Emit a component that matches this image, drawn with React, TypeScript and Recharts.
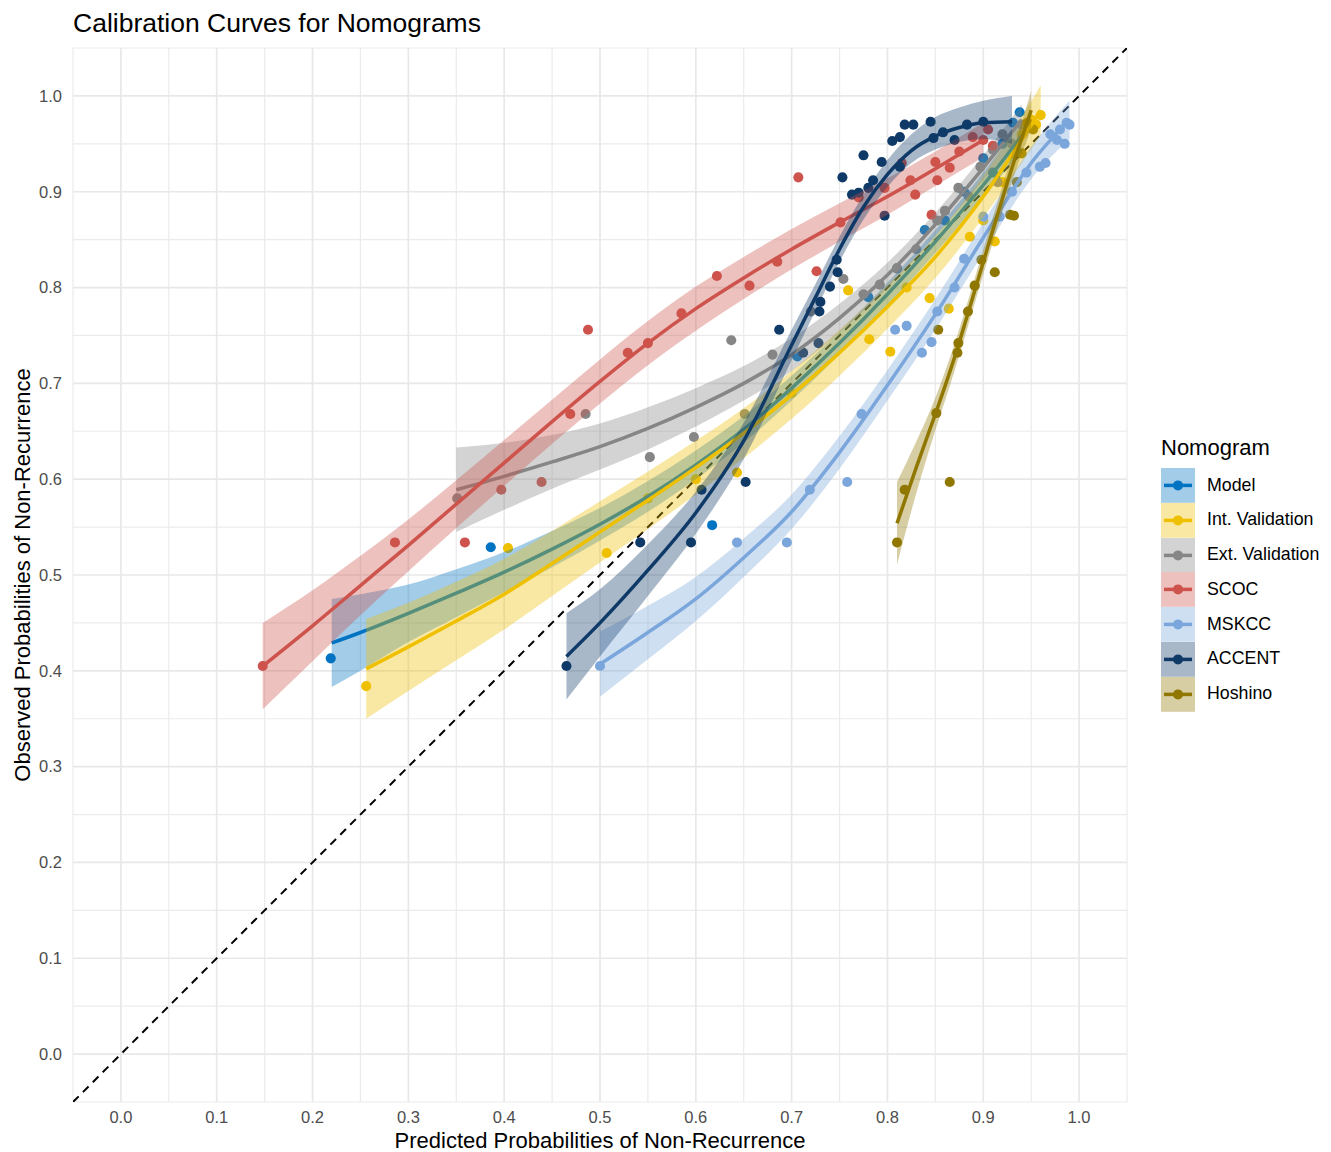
import React from 'react';
import { ComposedChart, XAxis, YAxis, ZAxis, CartesianGrid, Area, Line, Scatter } from 'recharts';

// ---------- categories / ticks ----------
const seriesNames = ['Model', 'Int. Validation', 'Ext. Validation', 'SCOC', 'MSKCC', 'ACCENT', 'Hoshino'];
const seriesColors = ['#0073C2', '#EFC000', '#868686', '#CD534C', '#7AA6DC', '#0F3A68', '#8F7700'];
const majorTicks = [0, 0.1, 0.2, 0.3, 0.4, 0.5, 0.6, 0.7, 0.8, 0.9, 1.0];
const minorTicks = [-0.05, 0.05, 0.15, 0.25, 0.35, 0.45, 0.55, 0.65, 0.75, 0.85, 0.95, 1.05];
const diagonalX = [-0.05, 1.05];
const diagonalY = [-0.05, 1.05];

// ---------- Model ----------
const modelPtX = [0.219, 0.386, 0.617, 0.706, 0.78, 0.81, 0.839, 0.86, 0.88, 0.9, 0.91, 0.92, 0.931, 0.938];
const modelPtY = [0.413, 0.529, 0.552, 0.728, 0.79, 0.82, 0.86, 0.87, 0.9, 0.935, 0.92, 0.95, 0.972, 0.983];
const modelCurveX = [0.22, 0.25, 0.3, 0.35, 0.4, 0.45, 0.5, 0.55, 0.6, 0.65, 0.7, 0.75, 0.8, 0.85, 0.9, 0.94];
const modelCurveY = [0.429, 0.44, 0.46, 0.481, 0.503, 0.527, 0.553, 0.582, 0.615, 0.652, 0.695, 0.742, 0.793, 0.848, 0.907, 0.958];
const modelCurveLo = [0.383, 0.4, 0.43, 0.456, 0.482, 0.508, 0.536, 0.566, 0.6, 0.638, 0.682, 0.73, 0.781, 0.836, 0.894, 0.942];
const modelCurveHi = [0.475, 0.48, 0.49, 0.506, 0.524, 0.546, 0.57, 0.598, 0.63, 0.666, 0.708, 0.754, 0.805, 0.86, 0.92, 0.974];

// ---------- Int. Validation ----------
const intPtX = [0.256, 0.404, 0.507, 0.55, 0.6, 0.643, 0.7, 0.759, 0.781, 0.803, 0.82, 0.844, 0.864, 0.886, 0.9, 0.912, 0.92, 0.93, 0.94, 0.95, 0.955, 0.96];
const intPtY = [0.384, 0.528, 0.523, 0.58, 0.6, 0.607, 0.69, 0.797, 0.746, 0.733, 0.8, 0.789, 0.778, 0.853, 0.87, 0.848, 0.91, 0.94, 0.96, 0.975, 0.97, 0.98];
const intCurveX = [0.256, 0.3, 0.35, 0.4, 0.45, 0.5, 0.55, 0.6, 0.65, 0.7, 0.75, 0.8, 0.85, 0.9, 0.96];
const intCurveY = [0.402, 0.425, 0.452, 0.48, 0.512, 0.545, 0.578, 0.612, 0.648, 0.688, 0.732, 0.78, 0.832, 0.895, 0.985];
const intCurveLo = [0.35, 0.379, 0.411, 0.443, 0.478, 0.513, 0.548, 0.584, 0.622, 0.663, 0.708, 0.757, 0.81, 0.873, 0.959];
const intCurveHi = [0.454, 0.471, 0.493, 0.517, 0.546, 0.577, 0.608, 0.64, 0.674, 0.713, 0.756, 0.803, 0.854, 0.917, 1.011];

// ---------- Ext. Validation ----------
const extPtX = [0.351, 0.485, 0.552, 0.598, 0.637, 0.651, 0.68, 0.72, 0.754, 0.775, 0.792, 0.81, 0.83, 0.852, 0.86, 0.874, 0.885, 0.897, 0.91, 0.915, 0.92, 0.93, 0.94];
const extPtY = [0.58, 0.668, 0.623, 0.644, 0.745, 0.668, 0.73, 0.775, 0.809, 0.793, 0.803, 0.82, 0.84, 0.87, 0.88, 0.904, 0.895, 0.926, 0.944, 0.91, 0.96, 0.95, 0.97];
const extCurveX = [0.35, 0.4, 0.45, 0.5, 0.55, 0.6, 0.65, 0.7, 0.75, 0.8, 0.85, 0.9, 0.94];
const extCurveY = [0.589, 0.603, 0.618, 0.634, 0.653, 0.675, 0.7, 0.73, 0.768, 0.813, 0.866, 0.925, 0.975];
const extCurveLo = [0.545, 0.568, 0.59, 0.61, 0.631, 0.655, 0.682, 0.713, 0.753, 0.8, 0.854, 0.912, 0.959];
const extCurveHi = [0.633, 0.638, 0.646, 0.658, 0.675, 0.695, 0.718, 0.747, 0.783, 0.826, 0.878, 0.938, 0.991];

// ---------- SCOC ----------
const scocPtX = [0.148, 0.286, 0.359, 0.397, 0.439, 0.469, 0.4875, 0.529, 0.55, 0.585, 0.622, 0.656, 0.685, 0.707, 0.726, 0.751, 0.77, 0.797, 0.815, 0.824, 0.829, 0.846, 0.852, 0.85, 0.865, 0.875, 0.889, 0.9, 0.905, 0.91];
const scocPtY = [0.405, 0.534, 0.534, 0.589, 0.597, 0.668, 0.756, 0.732, 0.742, 0.773, 0.812, 0.802, 0.827, 0.915, 0.817, 0.868, 0.894, 0.904, 0.93, 0.912, 0.897, 0.876, 0.912, 0.931, 0.925, 0.942, 0.957, 0.954, 0.965, 0.948];
const scocCurveX = [0.148, 0.2, 0.25, 0.3, 0.35, 0.4, 0.45, 0.5, 0.55, 0.6, 0.65, 0.7, 0.75, 0.8, 0.85, 0.9];
const scocCurveY = [0.405, 0.447, 0.489, 0.531, 0.574, 0.617, 0.66, 0.702, 0.742, 0.778, 0.81, 0.84, 0.868, 0.895, 0.924, 0.954];
const scocCurveLo = [0.36, 0.41, 0.458, 0.504, 0.549, 0.593, 0.637, 0.679, 0.719, 0.755, 0.788, 0.819, 0.848, 0.876, 0.906, 0.936];
const scocCurveHi = [0.45, 0.484, 0.52, 0.558, 0.599, 0.641, 0.683, 0.725, 0.765, 0.801, 0.832, 0.861, 0.888, 0.914, 0.942, 0.972];

// ---------- MSKCC ----------
const mskPtX = [0.5, 0.643, 0.695, 0.719, 0.758, 0.773, 0.808, 0.82, 0.836, 0.846, 0.852, 0.87, 0.88, 0.9, 0.917, 0.93, 0.945, 0.959, 0.965, 0.97, 0.977, 0.98, 0.985, 0.987, 0.99];
const mskPtY = [0.405, 0.534, 0.534, 0.589, 0.597, 0.668, 0.756, 0.76, 0.732, 0.743, 0.775, 0.8, 0.83, 0.874, 0.874, 0.9, 0.92, 0.926, 0.93, 0.96, 0.954, 0.965, 0.95, 0.972, 0.97];
const mskCurveX = [0.5, 0.55, 0.6, 0.65, 0.7, 0.75, 0.8, 0.85, 0.9, 0.95, 0.99];
const mskCurveY = [0.407, 0.44, 0.475, 0.518, 0.566, 0.628, 0.698, 0.772, 0.852, 0.93, 0.975];
const mskCurveLo = [0.373, 0.412, 0.452, 0.498, 0.548, 0.611, 0.682, 0.756, 0.836, 0.913, 0.955];
const mskCurveHi = [0.441, 0.468, 0.498, 0.538, 0.584, 0.645, 0.714, 0.788, 0.868, 0.947, 0.995];

// ---------- ACCENT ----------
const accPtX = [0.465, 0.542, 0.595, 0.606, 0.652, 0.687, 0.712, 0.728, 0.729, 0.73, 0.74, 0.747, 0.748, 0.753, 0.763, 0.77, 0.775, 0.78, 0.785, 0.794, 0.797, 0.805, 0.813, 0.813, 0.818, 0.827, 0.845, 0.848, 0.858, 0.87, 0.883, 0.9];
const accPtY = [0.405, 0.534, 0.534, 0.589, 0.597, 0.756, 0.732, 0.742, 0.775, 0.785, 0.801, 0.829, 0.816, 0.915, 0.897, 0.899, 0.938, 0.904, 0.912, 0.931, 0.875, 0.953, 0.957, 0.926, 0.97, 0.97, 0.973, 0.956, 0.962, 0.954, 0.97, 0.973];
const accCurveX = [0.465, 0.5, 0.55, 0.6, 0.65, 0.7, 0.725, 0.75, 0.775, 0.8, 0.825, 0.85, 0.875, 0.9, 0.93];
const accCurveY = [0.415, 0.45, 0.505, 0.565, 0.64, 0.74, 0.79, 0.84, 0.884, 0.918, 0.943, 0.958, 0.967, 0.972, 0.973];
const accCurveLo = [0.37, 0.415, 0.478, 0.543, 0.621, 0.724, 0.776, 0.827, 0.871, 0.905, 0.93, 0.944, 0.952, 0.955, 0.95];
const accCurveHi = [0.46, 0.485, 0.532, 0.587, 0.659, 0.756, 0.804, 0.853, 0.897, 0.933, 0.96, 0.978, 0.988, 0.995, 1.0];

// ---------- Hoshino ----------
const hosPtX = [0.81, 0.818, 0.865, 0.851, 0.853, 0.873, 0.874, 0.884, 0.891, 0.898, 0.912, 0.928, 0.932, 0.935, 0.94, 0.946, 0.952];
const hosPtY = [0.534, 0.589, 0.597, 0.669, 0.756, 0.732, 0.742, 0.775, 0.802, 0.829, 0.816, 0.876, 0.875, 0.91, 0.94, 0.972, 0.965];
const hosCurveX = [0.81, 0.83, 0.85, 0.87, 0.89, 0.91, 0.93, 0.95];
const hosCurveY = [0.554, 0.612, 0.668, 0.727, 0.793, 0.86, 0.925, 0.985];
const hosCurveLo = [0.511, 0.585, 0.651, 0.713, 0.78, 0.847, 0.911, 0.965];
const hosCurveHi = [0.597, 0.639, 0.685, 0.741, 0.806, 0.873, 0.939, 1.005];

// ---------- tables built for the library ----------
const toPoints = (xs: number[], ys: number[]) => xs.map((x, i) => ({ x, y: ys[i] }));
const toCurve = (xs: number[], ys: number[], lo: number[], hi: number[]) =>
  xs.map((x, i) => ({ x, y: ys[i], band: [lo[i], hi[i]] }));

const series = [
  { points: toPoints(modelPtX, modelPtY), curve: toCurve(modelCurveX, modelCurveY, modelCurveLo, modelCurveHi) },
  { points: toPoints(intPtX, intPtY), curve: toCurve(intCurveX, intCurveY, intCurveLo, intCurveHi) },
  { points: toPoints(extPtX, extPtY), curve: toCurve(extCurveX, extCurveY, extCurveLo, extCurveHi) },
  { points: toPoints(scocPtX, scocPtY), curve: toCurve(scocCurveX, scocCurveY, scocCurveLo, scocCurveHi) },
  { points: toPoints(mskPtX, mskPtY), curve: toCurve(mskCurveX, mskCurveY, mskCurveLo, mskCurveHi) },
  { points: toPoints(accPtX, accPtY), curve: toCurve(accCurveX, accCurveY, accCurveLo, accCurveHi) },
  { points: toPoints(hosPtX, hosPtY), curve: toCurve(hosCurveX, hosCurveY, hosCurveLo, hosCurveHi) },
];
const diagonal = toPoints(diagonalX, diagonalY);

const FONT = "'Liberation Sans', Arial, Helvetica, sans-serif";
const BAND_OPACITY = 0.36;
const fmt = (v: number) => v.toFixed(1);

function LegendKey({ color }: { color: string }) {
  return (
    <svg width={34} height={34.8} style={{ display: 'block' }}>
      <rect x={0} y={0} width={34} height={34.8} fill={color} fillOpacity={BAND_OPACITY} />
      <line x1={3} x2={31} y1={17.4} y2={17.4} stroke={color} strokeWidth={3.5} />
      <circle cx={17} cy={17.4} r={5} fill={color} />
    </svg>
  );
}

export default function App() {
  return (
    <div style={{ position: 'absolute', left: 0, top: 0, width: 1331, height: 1152, background: '#fff', fontFamily: FONT }}>
      <div style={{ position: 'absolute', left: 73, top: 10, fontSize: 26.5, lineHeight: 1, color: '#000', whiteSpace: 'nowrap' }}>
        Calibration Curves for Nomograms
      </div>
      <ComposedChart
        width={1331}
        height={1152}
        margin={{ top: 48, right: 204, bottom: 0, left: 0 }}
        style={{ fontFamily: FONT }}
      >
        <CartesianGrid stroke="#EBEBEB" strokeWidth={1.2} verticalValues={minorTicks} horizontalValues={minorTicks} />
        <CartesianGrid stroke="#E8E8E8" strokeWidth={1.7} verticalValues={majorTicks} horizontalValues={majorTicks} />
        <XAxis
          type="number"
          dataKey="x"
          domain={[-0.05, 1.05]}
          ticks={majorTicks}
          tickFormatter={fmt}
          allowDataOverflow
          axisLine={false}
          tickLine={false}
          tickSize={0}
          tickMargin={9}
          height={50}
          tick={{ fill: '#4D4D4D', fontSize: 16.5 }}
          label={{ value: 'Predicted Probabilities of Non-Recurrence', position: 'insideBottom', offset: 4, style: { fill: '#000', fontSize: 22, textAnchor: 'middle' } }}
        />
        <YAxis
          type="number"
          dataKey="y"
          domain={[-0.05, 1.05]}
          ticks={majorTicks}
          tickFormatter={fmt}
          allowDataOverflow
          axisLine={false}
          tickLine={false}
          tickSize={0}
          tickMargin={11}
          width={73}
          tick={{ fill: '#4D4D4D', fontSize: 16.5 }}
          label={{ value: 'Observed Probabilities of Non-Recurrence', angle: -90, position: 'insideLeft', offset: 22, style: { fill: '#000', fontSize: 22, textAnchor: 'middle' } }}
        />
        <ZAxis type="number" range={[80, 80]} />
        <Line
          data={diagonal}
          dataKey="y"
          type="linear"
          stroke="#000"
          strokeWidth={2}
          strokeDasharray="8 6"
          dot={false}
          activeDot={false}
          isAnimationActive={false}
          legendType="none"
          zIndex={10}
        />
        {series.map((s, i) => (
          <Scatter
            key={'pt' + i}
            name={seriesNames[i]}
            data={s.points}
            dataKey="y"
            fill={seriesColors[i]}
            shape="circle"
            isAnimationActive={false}
            zIndex={20 + i}
          />
        ))}
        {series.flatMap((s, i) => [
          <Area
            key={'band' + i}
            data={s.curve}
            dataKey="band"
            type="monotone"
            stroke="none"
            fill={seriesColors[i]}
            fillOpacity={BAND_OPACITY}
            dot={false}
            activeDot={false}
            isAnimationActive={false}
            zIndex={100 + 10 * i}
          />,
          <Line
            key={'line' + i}
            data={s.curve}
            dataKey="y"
            type="monotone"
            stroke={seriesColors[i]}
            strokeWidth={3.5}
            dot={false}
            activeDot={false}
            isAnimationActive={false}
            zIndex={105 + 10 * i}
          />,
        ])}
      </ComposedChart>
      <div style={{ position: 'absolute', left: 1161, top: 437, color: '#000' }}>
        <div style={{ fontSize: 22, lineHeight: 1, height: 31, whiteSpace: 'nowrap' }}>Nomogram</div>
        {seriesNames.map((n, i) => (
          <div key={n} style={{ display: 'flex', alignItems: 'center', height: 34.8 }}>
            <LegendKey color={seriesColors[i]} />
            <div style={{ marginLeft: 12, fontSize: 17.8, lineHeight: 1, whiteSpace: 'nowrap' }}>{n}</div>
          </div>
        ))}
      </div>
    </div>
  );
}
